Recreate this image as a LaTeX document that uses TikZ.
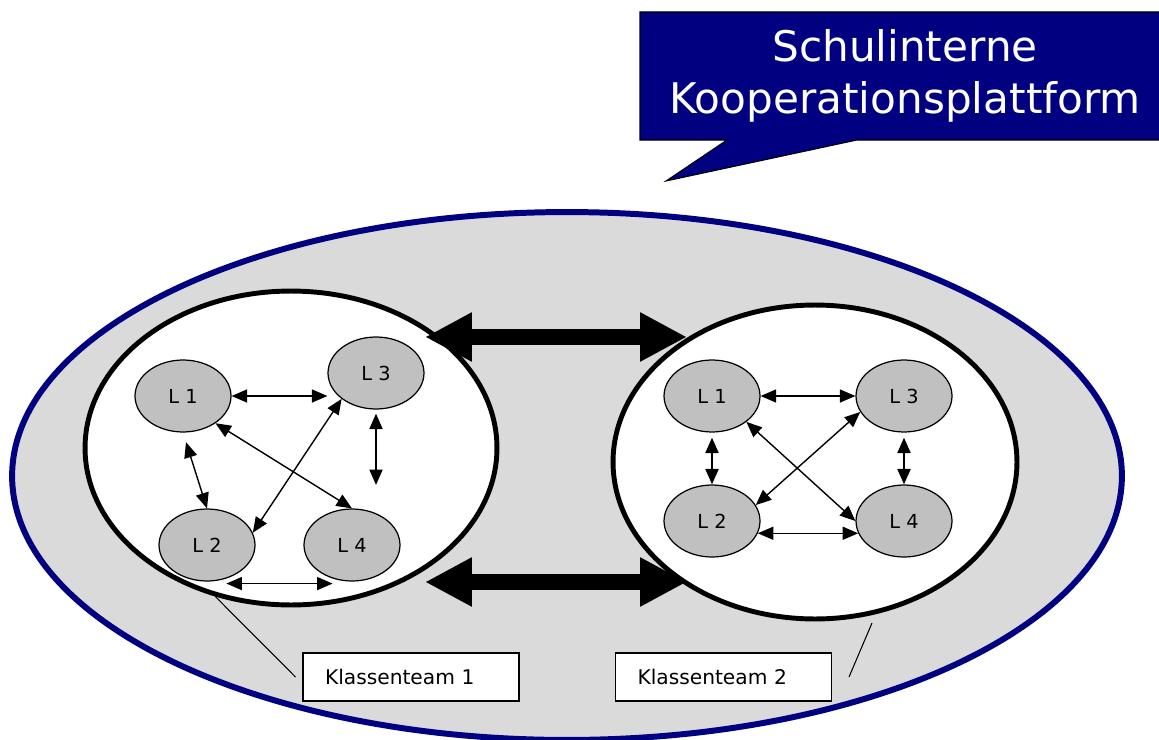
\documentclass[tikz,border=0pt]{standalone}
\usepackage{fontspec}
\setmainfont{DejaVu Sans}
\usetikzlibrary{shapes,arrows.meta}
\definecolor{dunkelblau}{RGB}{0,0,128}
\definecolor{flaeche}{RGB}{218,218,218}
\definecolor{lgrau}{RGB}{192,192,192}

\begin{document}
\begin{tikzpicture} [x=0.02cm, y=-0.02cm,
                     lehrer/.style= {shape=ellipse, draw=black, line width=0.7pt,
                                     fill=lgrau, minimum width=1.92cm,
                                     minimum height=1.44cm, inner sep=0,
                                     font=\fontsize{11}{13}\selectfont},
                     team/.style= {shape=ellipse, draw=black, line width=2.8pt,
                                   fill=white, minimum width=8.24cm,
                                   minimum height=6.28cm},
                     pfeil/.style= {arrows={Triangle[length=0.31cm,width=0.26cm]-Triangle[length=0.31cm,width=0.26cm]},
                                    line width=0.8pt},
                     dickpfeil/.style= {arrows={Triangle[length=0.94cm,width=0.92cm]-Triangle[length=0.94cm,width=0.92cm]},
                                        line width=0.32cm},
                     etikett/.style= {draw=black, line width=0.6pt, fill=white,
                                      minimum height=0.96cm, text width=3.44cm,
                                      inner xsep=0.44cm, align=left,
                                      font=\fontsize{11.5}{13}\selectfont}]
\useasboundingbox (0,0) rectangle (1159,740);

% Schule
\node[shape=ellipse, draw=dunkelblau, line width=3.4pt, fill=flaeche,
      minimum width=22.2cm, minimum height=10.56cm] (schule) at (567,476) {};

% Klassenteams
\node[team] (team1) at (291,448) {};
\node[team, minimum width=8.08cm] (team2) at (815,462) {};

\coordinate (o1) at (425,337);
\coordinate (o2) at (687,337);
\coordinate (u1) at (425,582);
\coordinate (u2) at (687,582);
\draw[dickpfeil] (o1) -- (o2);
\draw[dickpfeil] (u1) -- (u2);

% Lehrer
\foreach \i/\x/\y in {1/183/396, 2/207/545, 3/376/373, 4/352/545}{%
    \node[lehrer] (a\i) at (\x,\y) {L \i};}
\foreach \i/\x/\y in {1/712/396, 2/712/521, 3/904/396, 4/904/521}{%
    \node[lehrer] (b\i) at (\x,\y) {L \i};}

\draw[pfeil] (a1.east) -- (a1.east -| a3.west);
\draw[pfeil, shorten <=0.2cm] (a1.south) -- (a2.north);
\draw[pfeil] (a3.south west) -- (a2.15);
\draw[pfeil] (a1.-40) -- (a4.north);
\coordinate (a3frei) at (376,485);
\draw[pfeil, line width=1.2pt, shorten <=0.08cm] (a3.south) -- (a3frei);
\draw[pfeil] ([yshift=-0.1cm]a2.-60) -- ([yshift=-0.1cm]a2.-60 -| a4.-120);

\draw[pfeil] (b1.east) -- (b3.west);
\draw[pfeil] (b2.-15) -- (b2.-15 -| b4.195);
\draw[pfeil, line width=1.4pt, shorten <=0.1cm] (b1.south) -- (b2.north);
\draw[pfeil, line width=1.4pt, shorten <=0.1cm] (b3.south) -- (b4.north);
\draw[pfeil] (b1.south east) -- (b4.west);
\draw[pfeil] (b3.200) -- (b2.20);

% Etiketten
\node[etikett] (klasse1) at (411,677) {Klassenteam 1};
\node[etikett] (klasse2) at (723.5,677) {Klassenteam 2};
\draw[line width=0.6pt] (team1.243) -- ([xshift=-0.14cm]klasse1.west);
\coordinate (k2oben) at (872,623);
\draw[line width=0.6pt] (k2oben) -- ([xshift=0.34cm]klasse2.east);

% Sprechblase
\filldraw[fill=dunkelblau, draw=black, line width=0.6pt]
    (640,12) -- (1170,12) -- (1170,140) -- (857,140) -- (666,181)
    -- (727,140) -- (640,140) -- cycle;
\node[text=white, align=center, font=\fontsize{24}{30}\selectfont] (titel) at (905,76)
    {Schulinterne\\Kooperationsplattform};
\end{tikzpicture}
\end{document}
